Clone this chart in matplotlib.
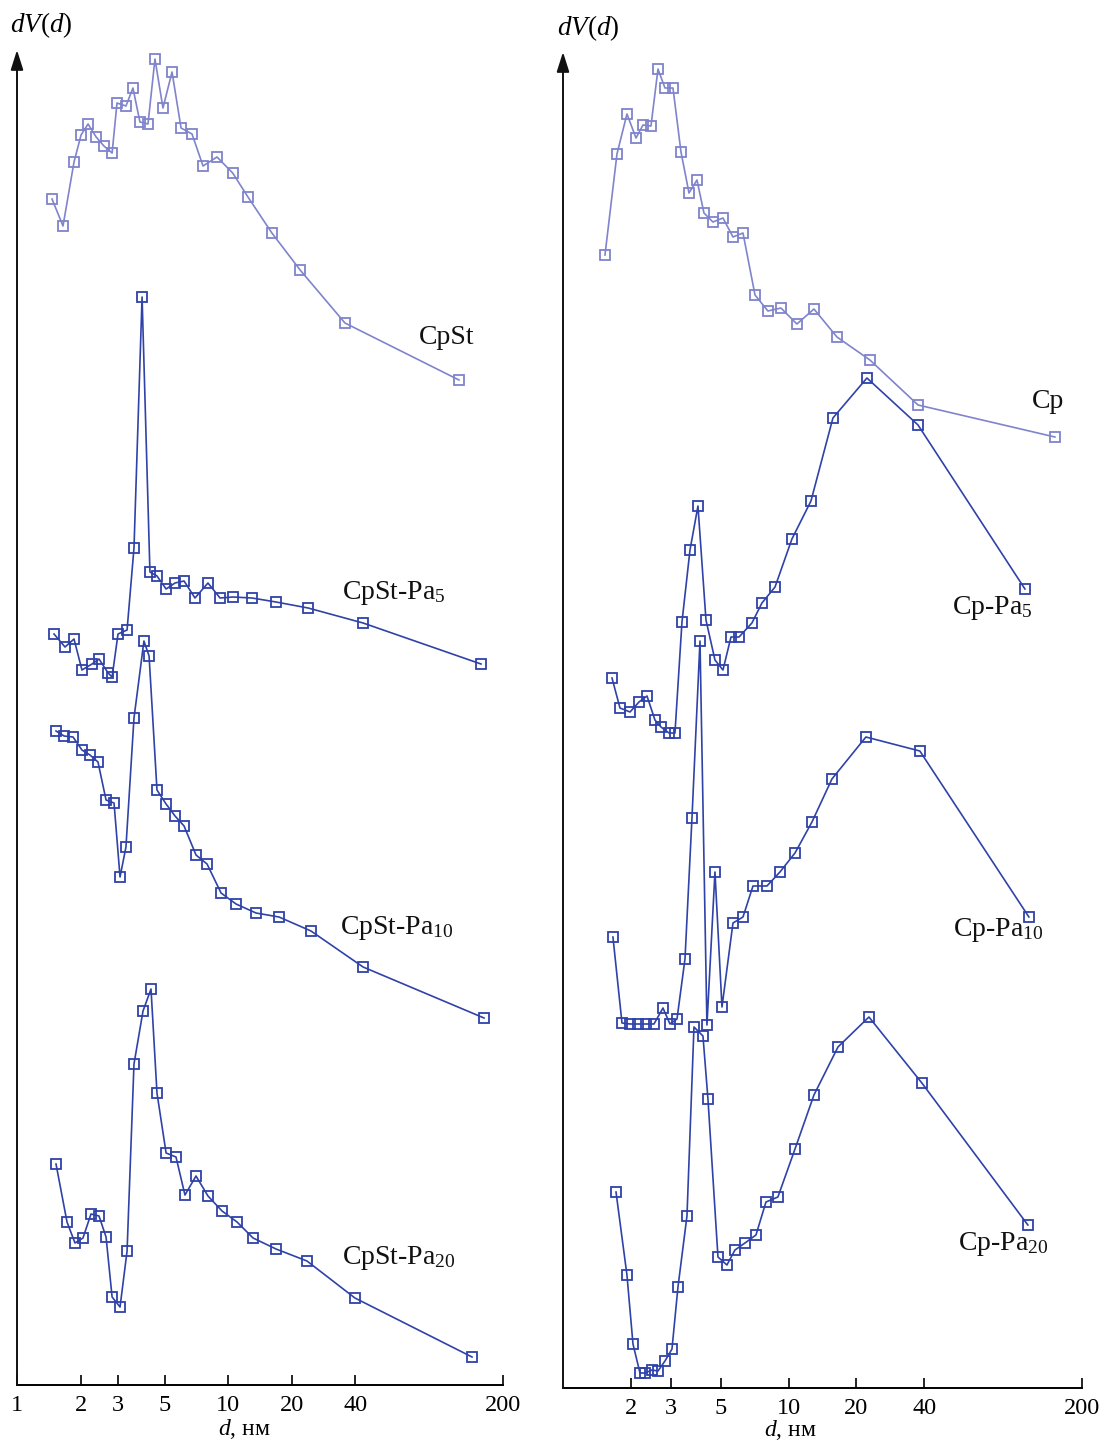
import numpy as np
import matplotlib
matplotlib.use("Agg")
import matplotlib.pyplot as plt

plt.rcParams['font.family'] = ['Liberation Serif', 'DejaVu Serif']
plt.rcParams['mathtext.fontset'] = 'custom'
plt.rcParams['mathtext.rm'] = 'Liberation Serif'
plt.rcParams['mathtext.it'] = 'Liberation Serif:italic'
plt.rcParams['mathtext.bf'] = 'Liberation Serif:bold'

# pore diameter d (nm) and dV(d) in arbitrary units (curves stacked with offsets)
cpst_d = [1.465, 1.651, 1.862, 2.01, 2.17, 2.37, 2.58, 2.82, 2.975, 3.28, 3.54, 3.82,
          4.17, 4.50, 4.91, 5.42, 5.98, 6.74, 7.60, 8.85, 10.5, 12.4, 16.1, 21.9, 35.7, 123.8]
cpst_v = [1186, 1159, 1223, 1250, 1261, 1248, 1239, 1232, 1282, 1279, 1297, 1263,
          1261, 1326, 1277, 1313, 1257, 1251, 1219, 1228, 1212, 1188, 1152, 1115, 1062, 1005]

pa5_d = [1.497, 1.688, 1.862, 2.03, 2.265, 2.445, 2.70, 2.82, 3.008, 3.32, 3.58, 3.91,
         4.26, 4.60, 5.08, 5.60, 6.18, 6.96, 8.02, 9.15, 10.5, 12.96, 16.84, 23.9, 43.5, 157.4]
pa5_v = [751, 738, 746, 715, 721, 726, 712, 708, 751, 755, 837, 1088,
         813, 809, 796, 802, 804, 787, 802, 787, 788, 787, 783, 777, 762, 721]

pa10_d = [1.530, 1.669, 1.842, 2.03, 2.216, 2.418, 2.64, 2.88, 3.075, 3.28, 3.58, 3.99, 4.22,
          4.60, 5.08, 5.60, 6.18, 7.04, 7.94, 9.25, 10.89, 13.54, 17.40, 24.66, 43.5, 162.6]
pa10_v = [654, 649, 648, 635, 630, 623, 585, 582, 508, 538, 667, 744, 729,
          595, 581, 569, 559, 530, 521, 492, 481, 472, 468, 454, 418, 367]

pa20_d = [1.530, 1.725, 1.882, 2.053, 2.24, 2.445, 2.64, 2.82, 3.075, 3.32, 3.58, 3.95, 4.31,
          4.60, 5.08, 5.66, 6.24, 7.04, 8.02, 9.35, 11.01, 13.11, 16.84, 23.6, 39.8, 142.7]
pa20_v = [221, 163, 142, 147, 171, 169, 148, 88, 78, 134, 321, 374, 396,
          292, 232, 228, 190, 209, 189, 174, 163, 147, 136, 124, 87, 28]

cp_d = [1.535, 1.735, 1.921, 2.107, 2.263, 2.455, 2.637, 2.832, 3.073, 3.335, 3.619, 3.926, 4.217,
        4.62, 5.12, 5.67, 6.28, 7.10, 8.10, 9.25, 10.89, 12.96, 16.39, 22.95, 37.5, 151.7]
cp_v = [1133, 1234, 1274, 1250, 1263, 1262, 1319, 1300, 1300, 1236, 1195, 1208, 1175,
        1166, 1170, 1151, 1155, 1093, 1077, 1080, 1064, 1079, 1051, 1028, 983, 951]

cpa5_d = [1.649, 1.789, 1.982, 2.172, 2.357, 2.557, 2.719, 2.951, 3.136, 3.369, 3.656, 3.966, 4.304,
          4.718, 5.12, 5.556, 6.03, 6.88, 7.62, 8.71, 10.35, 12.57, 15.73, 22.26, 37.5, 111.7]
cpa5_v = [710, 680, 676, 686, 692, 668, 661, 655, 655, 766, 838, 882, 768,
          728, 718, 751, 751, 765, 785, 801, 849, 887, 970, 1010, 963, 799]

cpa10_d = [1.665, 1.826, 1.982, 2.150, 2.333, 2.531, 2.775, 2.981, 3.202, 3.474, 3.731, 4.049, 4.347,
           4.718, 5.068, 5.67, 6.28, 6.955, 8.02, 9.16, 10.68, 12.70, 15.57, 22.03, 38.2, 116.3]
cpa10_v = [451, 365, 364, 364, 364, 364, 380, 364, 369, 429, 570, 747, 363,
           516, 381, 465, 471, 502, 502, 516, 535, 566, 609, 651, 637, 471]

cpa20_d = [1.718, 1.921, 2.043, 2.194, 2.309, 2.481, 2.637, 2.832, 3.042, 3.234, 3.545, 3.808, 4.174,
           4.392, 4.865, 5.33, 5.786, 6.41, 7.17, 7.94, 8.97, 10.68, 12.96, 16.56, 22.72, 39.0, 115.1]
cpa20_v = [196, 113, 44, 15, 15, 18, 17, 27, 39, 101, 172, 361, 352,
           289, 131, 123, 138, 145, 153, 186, 191, 239, 293, 341, 371, 305, 163]

left_ticks = [1, 2, 3, 5, 10, 20, 40, 200]
right_ticks = [2, 3, 5, 10, 20, 40, 200]

LIGHT = '#7f84cc'
DARK = '#2f42a8'

W, H = 1105, 1442
fig = plt.figure(figsize=(W / 100, H / 100), dpi=100)
ax1 = fig.add_axes([17 / W, 57 / H, 486 / W, 1335 / H])
ax2 = fig.add_axes([563 / W, 54 / H, 519 / W, 1336 / H])


def setup(ax, ticks, ytop):
    ax.set_xscale('log')
    ax.set_xlim(1, 200)
    ax.set_ylim(0, ytop)
    for s in ['top', 'right', 'left']:
        ax.spines[s].set_visible(False)
    ax.spines['bottom'].set_linewidth(1.4)
    ax.set_xticks(ticks)
    ax.set_xticklabels([str(t) for t in ticks])
    ax.xaxis.set_minor_locator(matplotlib.ticker.NullLocator())
    ax.tick_params(axis='x', direction='in', length=7, width=1.2, labelsize=17.5, pad=7)
    ax.set_yticks([])
    ax.patch.set_alpha(0)
    # vertical axis with arrow head
    ax.annotate('', xy=(0, 1), xytext=(0, 0), xycoords='axes fraction',
                arrowprops=dict(arrowstyle='-|>,head_length=1.2,head_width=0.38',
                                color='#111111', lw=1.4, shrinkA=0, shrinkB=0))


setup(ax1, left_ticks, 1335)
setup(ax2, right_ticks, 1336)

style = dict(marker='s', markersize=7, markerfacecolor='none', markeredgewidth=1.3, linewidth=1.2)

ax1.plot(cpst_d, cpst_v, color=LIGHT, **style)
ax1.plot(pa5_d, pa5_v, color=DARK, **style)
ax1.plot(pa10_d, pa10_v, color=DARK, **style)
ax1.plot(pa20_d, pa20_v, color=DARK, **style)

ax2.plot(cp_d, cp_v, color=LIGHT, **style)
ax2.plot(cpa5_d, cpa5_v, color=DARK, **style)
ax2.plot(cpa10_d, cpa10_v, color=DARK, **style)
ax2.plot(cpa20_d, cpa20_v, color=DARK, **style)

lab = dict(fontsize=20, ha='left', va='center', color='#111111')
ax1.text(80.1, 1048, 'CpSt', **lab)
ax1.text(34.6, 792, r'CpSt-Pa$_{5}$', **lab)
ax1.text(33.8, 457, r'CpSt-Pa$_{10}$', **lab)
ax1.text(34.6, 127, r'CpSt-Pa$_{20}$', **lab)

ax2.text(119.9, 986, 'Cp', **lab)
ax2.text(53.0, 780, r'Cp-Pa$_{5}$', **lab)
ax2.text(53.6, 458, r'Cp-Pa$_{10}$', **lab)
ax2.text(56.3, 144, r'Cp-Pa$_{20}$', **lab)

fig.text(10 / W, 1 - 25 / H, r'$dV$($d$)', fontsize=19.5, ha='left', va='center')
fig.text(557 / W, 1 - 28 / H, r'$dV$($d$)', fontsize=19.5, ha='left', va='center')
fig.text(244 / W, 1 - 1429 / H, r'$d$, нм', fontsize=17, ha='center', va='center')
fig.text(790 / W, 1 - 1430 / H, r'$d$, нм', fontsize=17, ha='center', va='center')

fig.savefig('out.png', dpi=100, facecolor='white')
